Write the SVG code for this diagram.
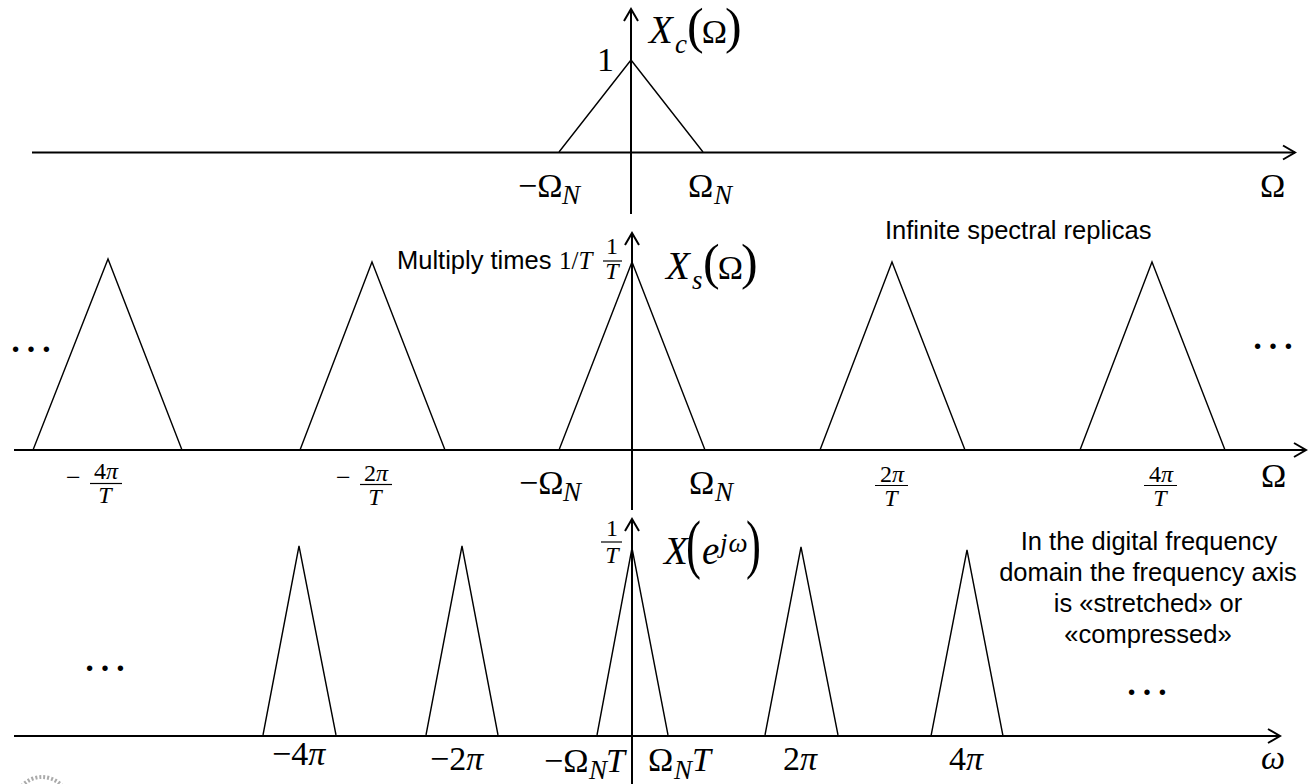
<svg xmlns="http://www.w3.org/2000/svg" width="1310" height="784" viewBox="0 0 1310 784">
<style>
.ax{fill:none;stroke:#000;stroke-width:2}
.tri{fill:none;stroke:#000;stroke-width:1.4}
.hd{fill:none;stroke:#000;stroke-width:2}
text{font-family:"Liberation Serif","Times New Roman",serif;fill:#000}
.s{font-size:34px}
.i{font-style:italic}
.x{font-size:39px;font-style:italic}
.sub{font-size:27px;font-style:italic}
.par{font-size:50px}
.fr{font-size:24px;text-anchor:middle}
.bar{stroke:#000;stroke-width:1.2}
.sans{font-family:"Liberation Sans",Arial,sans-serif;font-size:25.500px}
.dots{font-size:46px}
</style>
<rect width="1310" height="784" fill="#fff"/>
<g id="connectors">
<path class="ax" d="M32 152.500H1295M631 214V9"/>
<path class="hd" d="M1283 145.500L1295 152.500L1283 159.500M624 21L631 9L638 21"/>
<path class="ax" d="M14 450H1306M632 510V233"/>
<path class="hd" d="M1294 443L1306 450L1294 457M625 245L632 233L639 245"/>
<path class="ax" d="M14 736H1280M632 784V519"/>
<path class="hd" d="M1268 729L1280 736L1268 743M625 531L632 519L639 531"/>
</g>
<g id="spectrum-top">
<path class="tri" d="M559 152L631 60L703 152"/>
<text class="x" x="649" y="43">X</text><text class="sub" x="675" y="53">c</text>
<text x="687" y="43" class="par">(<tspan class="s" dx="-2">Ω</tspan><tspan dx="-2">)</tspan></text>
<text class="s" x="597" y="71">1</text>
<text class="s" x="518" y="197">−Ω</text><text class="sub" x="562" y="204">N</text>
<text class="s" x="688" y="197">Ω</text><text class="sub" x="714" y="204">N</text>
<text class="s" x="1260" y="197">Ω</text>
</g>
<g id="spectrum-middle">
<path class="tri" d="M33 450L108 259L182 450M300 450L372 262L445 450M559 450L632 262L705 450M820 450L892 262L965 450M1080 450L1152 262L1225 450"/>
<text class="sans" x="397" y="269">Multiply times</text><text x="559" y="269" style="font-size:25px">1/<tspan class="i">T</tspan></text>
<text class="fr" x="612" y="254">1</text><line class="bar" x1="603" y1="261" x2="622" y2="261"/><text class="fr i" x="612" y="279">T</text>
<text class="x" x="666" y="279">X</text><text class="sub" x="692" y="289">s</text>
<text x="703" y="279" class="par">(<tspan class="s" dx="-2">Ω</tspan><tspan dx="-2">)</tspan></text>
<text class="sans" x="885" y="239">Infinite spectral replicas</text>
<text class="dots" x="8" y="352">…</text><text class="dots" x="1250" y="349">…</text>
<text x="66" y="486" style="font-size:26px">−</text>
<text class="fr" x="106" y="479">4<tspan class="i">π</tspan></text><line class="bar" x1="90" y1="483.500" x2="122" y2="483.500"/><text class="fr i" x="105" y="503">T</text>
<text x="336" y="486" style="font-size:26px">−</text>
<text class="fr" x="376" y="481">2<tspan class="i">π</tspan></text><line class="bar" x1="360" y1="484.500" x2="392" y2="484.500"/><text class="fr i" x="375" y="505">T</text>
<text class="s" x="519" y="494">−Ω</text><text class="sub" x="563" y="501">N</text>
<text class="s" x="689" y="494">Ω</text><text class="sub" x="715" y="501">N</text>
<text class="fr" x="892" y="482">2<tspan class="i">π</tspan></text><line class="bar" x1="875" y1="485.500" x2="908" y2="485.500"/><text class="fr i" x="891" y="506">T</text>
<text class="fr" x="1161" y="482">4<tspan class="i">π</tspan></text><line class="bar" x1="1144" y1="485.500" x2="1177" y2="485.500"/><text class="fr i" x="1160" y="506">T</text>
<text class="s" x="1261" y="487">Ω</text>
</g>
<g id="spectrum-bottom">
<path class="tri" d="M263 735L299 546L336 735M426 735L462 546L498 735M597 735L632 548L668 735M765 735L801 547L838 735M931 736L967 550L1003 736"/>
<text class="fr" x="612" y="536">1</text><line class="bar" x1="601" y1="542" x2="622" y2="542"/><text class="fr i" x="612" y="563">T</text>
<text class="x" x="664" y="564">X</text>
<text transform="translate(686 566) scale(.68 1)" style="font-size:66px">(</text>
<text class="x" x="702" y="564">e</text><text class="sub" x="720" y="552" letter-spacing="1">jω</text>
<text transform="translate(746 566) scale(.68 1)" style="font-size:66px">)</text>
<text class="sans" text-anchor="middle" x="1149" y="550">In the digital frequency</text>
<text class="sans" text-anchor="middle" x="1148" y="581">domain the frequency axis</text>
<text class="sans" text-anchor="middle" x="1148" y="612">is «stretched» or</text>
<text class="sans" text-anchor="middle" x="1148" y="643">«compressed»</text>
<text class="dots" x="82" y="671">…</text><text class="dots" x="1124" y="695">…</text>
<text class="s" x="272" y="765">−4<tspan class="i">π</tspan></text>
<text class="s" x="430" y="770">−2<tspan class="i">π</tspan></text>
<text class="s" x="544" y="772">−Ω</text><text class="sub" x="589" y="779">N</text><text class="s i" x="606" y="772">T</text>
<text class="s" x="648" y="771">Ω</text><text class="sub" x="674" y="779">N</text><text class="s i" x="692" y="771">T</text>
<text class="s" x="783" y="770">2<tspan class="i">π</tspan></text>
<text class="s" x="949" y="770">4<tspan class="i">π</tspan></text>
<text class="s i" x="1261" y="769">ω</text>
</g>
<circle cx="42" cy="804" r="27" fill="none" stroke="#aaa" stroke-width="4" stroke-dasharray="2 2"/>
</svg>
